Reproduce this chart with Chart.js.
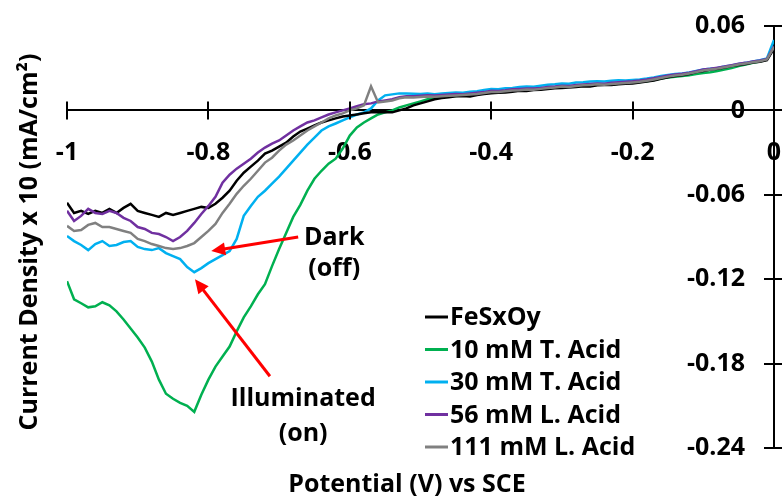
<!DOCTYPE html>
<html>
<head>
<meta charset="utf-8">
<script src="https://cdn.jsdelivr.net/npm/chart.js@4"></script>
<style>
  html, body { margin: 0; padding: 0; background: #fff; }
  #wrap { width: 782px; height: 499px; }
</style>
</head>
<body>
<div id="wrap"><canvas id="myChart" width="782" height="499"></canvas></div>
<script>
const potentials = [
  -1.00, -0.99, -0.98, -0.97, -0.96, -0.95, -0.94, -0.93, -0.92, -0.91,
  -0.90, -0.89, -0.88, -0.87, -0.86, -0.85, -0.84, -0.83, -0.82, -0.81,
  -0.80, -0.79, -0.78, -0.77, -0.76, -0.75, -0.74, -0.73, -0.72, -0.71,
  -0.70, -0.69, -0.68, -0.67, -0.66, -0.65, -0.64, -0.63, -0.62, -0.61,
  -0.60, -0.59, -0.58, -0.57, -0.56, -0.55, -0.54, -0.53, -0.52, -0.51,
  -0.50, -0.49, -0.48, -0.47, -0.46, -0.45, -0.44, -0.43, -0.42, -0.41,
  -0.40, -0.39, -0.38, -0.37, -0.36, -0.35, -0.34, -0.33, -0.32, -0.31,
  -0.30, -0.29, -0.28, -0.27, -0.26, -0.25, -0.24, -0.23, -0.22, -0.21,
  -0.20, -0.19, -0.18, -0.17, -0.16, -0.15, -0.14, -0.13, -0.12, -0.11,
  -0.10, -0.09, -0.08, -0.07, -0.06, -0.05, -0.04, -0.03, -0.02, -0.01,
  0.00
];

const fesxoy = [
  -0.0657, -0.0729, -0.0714, -0.0736, -0.0714, -0.0729, -0.0700, -0.0729, -0.0693, -0.0664,
  -0.0714, -0.0729, -0.0743, -0.0757, -0.0729, -0.0743, -0.0729, -0.0714, -0.0700, -0.0686,
  -0.0693, -0.0664, -0.0621, -0.0571, -0.0500, -0.0443, -0.0400, -0.0357, -0.0307, -0.0286,
  -0.0257, -0.0229, -0.0186, -0.0150, -0.0129, -0.0107, -0.0086, -0.0071, -0.0057, -0.0043,
  -0.0036, -0.0029, -0.0021, -0.0014, -0.0014, -0.0014, -0.0014, 0.0000, 0.0014,
  0.0036, 0.0050, 0.0064, 0.0079, 0.0088, 0.0093, 0.0100, 0.0102, 0.0099, 0.0110,
  0.0116, 0.0122, 0.0125, 0.0128, 0.0133, 0.0140, 0.0138, 0.0145, 0.0146, 0.0152,
  0.0158, 0.0160, 0.0162, 0.0166, 0.0172, 0.0170, 0.0178, 0.0181, 0.0180, 0.0186,
  0.0190, 0.0192, 0.0198, 0.0206, 0.0212, 0.0225, 0.0236, 0.0244, 0.0250, 0.0258,
  0.0272, 0.0280, 0.0290, 0.0296, 0.0304, 0.0315, 0.0322, 0.0330, 0.0340, 0.0346,
  0.0358, 0.0440
];

const tAcid10 = [
  -0.1214, -0.1343, -0.1371, -0.1400, -0.1393, -0.1364, -0.1386, -0.1429, -0.1486, -0.1550,
  -0.1614, -0.1686, -0.1786, -0.1914, -0.2014, -0.2050, -0.2079, -0.2100, -0.2143, -0.2021,
  -0.1914, -0.1821, -0.1750, -0.1679, -0.1571, -0.1471, -0.1393, -0.1307, -0.1236, -0.1107,
  -0.0986, -0.0871, -0.0757, -0.0671, -0.0571, -0.0486, -0.0429, -0.0379, -0.0343, -0.0271,
  -0.0179, -0.0121, -0.0086, -0.0057, -0.0029, -0.0014, 0.0000, 0.0021, 0.0036,
  0.0050, 0.0064, 0.0079, 0.0090, 0.0100, 0.0104, 0.0103, 0.0108, 0.0112, 0.0116,
  0.0122, 0.0130, 0.0131, 0.0136, 0.0140, 0.0144, 0.0148, 0.0146, 0.0152, 0.0158,
  0.0162, 0.0166, 0.0168, 0.0172, 0.0176, 0.0180, 0.0183, 0.0182, 0.0186, 0.0190,
  0.0194, 0.0198, 0.0202, 0.0208, 0.0216, 0.0226, 0.0234, 0.0240, 0.0245, 0.0250,
  0.0258, 0.0266, 0.0272, 0.0280, 0.0290, 0.0302, 0.0316, 0.0326, 0.0338, 0.0348,
  0.0360, 0.0450
];

const tAcid30 = [
  -0.0893, -0.0929, -0.0957, -0.0993, -0.0950, -0.0929, -0.0964, -0.0957, -0.0936, -0.0929,
  -0.0971, -0.0986, -0.0993, -0.0979, -0.1014, -0.1036, -0.1057, -0.1114, -0.1150, -0.1121,
  -0.1086, -0.1057, -0.1029, -0.1000, -0.0914, -0.0750, -0.0679, -0.0614, -0.0571, -0.0521,
  -0.0471, -0.0414, -0.0357, -0.0300, -0.0243, -0.0193, -0.0143, -0.0114, -0.0093, -0.0071,
  -0.0050, -0.0029, -0.0014, 0.0014, 0.0071, 0.0107, 0.0114, 0.0121, 0.0121,
  0.0118, 0.0116, 0.0120, 0.0115, 0.0121, 0.0124, 0.0128, 0.0126, 0.0133, 0.0137,
  0.0145, 0.0152, 0.0150, 0.0158, 0.0160, 0.0166, 0.0170, 0.0168, 0.0175, 0.0182,
  0.0186, 0.0192, 0.0190, 0.0198, 0.0200, 0.0205, 0.0208, 0.0206, 0.0210, 0.0214,
  0.0212, 0.0216, 0.0220, 0.0226, 0.0234, 0.0244, 0.0252, 0.0258, 0.0262, 0.0270,
  0.0280, 0.0290, 0.0296, 0.0302, 0.0312, 0.0320, 0.0330, 0.0338, 0.0348, 0.0356,
  0.0370, 0.0500
];

const lAcid56 = [
  -0.0714, -0.0786, -0.0750, -0.0700, -0.0729, -0.0736, -0.0714, -0.0729, -0.0764, -0.0786,
  -0.0829, -0.0843, -0.0871, -0.0879, -0.0900, -0.0929, -0.0900, -0.0857, -0.0800, -0.0736,
  -0.0679, -0.0614, -0.0514, -0.0457, -0.0414, -0.0379, -0.0343, -0.0300, -0.0264, -0.0236,
  -0.0214, -0.0179, -0.0143, -0.0114, -0.0086, -0.0071, -0.0050, -0.0029, -0.0014, 0.0000,
  0.0014, 0.0029, 0.0043, 0.0050, 0.0064, 0.0071, 0.0079, 0.0093, 0.0100,
  0.0100, 0.0104, 0.0108, 0.0106, 0.0110, 0.0113, 0.0116, 0.0115, 0.0120, 0.0126,
  0.0130, 0.0140, 0.0138, 0.0143, 0.0150, 0.0152, 0.0155, 0.0156, 0.0160, 0.0166,
  0.0170, 0.0176, 0.0174, 0.0180, 0.0185, 0.0188, 0.0192, 0.0190, 0.0196, 0.0200,
  0.0204, 0.0207, 0.0212, 0.0219, 0.0228, 0.0238, 0.0248, 0.0255, 0.0260, 0.0268,
  0.0278, 0.0290, 0.0296, 0.0304, 0.0312, 0.0322, 0.0332, 0.0338, 0.0348, 0.0355,
  0.0366, 0.0455
];

const lAcid111 = [
  -0.0821, -0.0857, -0.0850, -0.0814, -0.0800, -0.0829, -0.0829, -0.0843, -0.0857, -0.0871,
  -0.0914, -0.0929, -0.0950, -0.0964, -0.0979, -0.0986, -0.0979, -0.0964, -0.0943, -0.0900,
  -0.0857, -0.0807, -0.0729, -0.0664, -0.0593, -0.0536, -0.0486, -0.0429, -0.0371, -0.0336,
  -0.0286, -0.0243, -0.0214, -0.0179, -0.0143, -0.0114, -0.0086, -0.0057, -0.0036, -0.0021,
  0.0000, 0.0014, 0.0036, 0.0171, 0.0057, 0.0064, 0.0071, 0.0086, 0.0093,
  0.0092, 0.0095, 0.0099, 0.0097, 0.0101, 0.0104, 0.0106, 0.0109, 0.0113, 0.0117,
  0.0123, 0.0131, 0.0130, 0.0136, 0.0141, 0.0144, 0.0149, 0.0147, 0.0153, 0.0159,
  0.0163, 0.0169, 0.0167, 0.0174, 0.0178, 0.0181, 0.0185, 0.0183, 0.0188, 0.0192,
  0.0195, 0.0199, 0.0204, 0.0211, 0.0220, 0.0230, 0.0240, 0.0248, 0.0253, 0.0262,
  0.0272, 0.0283, 0.0290, 0.0297, 0.0307, 0.0316, 0.0326, 0.0334, 0.0342, 0.0350,
  0.0362, 0.0450
];

const seriesNames = ["FeSxOy", "10 mM T. Acid", "30 mM T. Acid", "56 mM L. Acid", "111 mM L. Acid"];
const seriesColors = ["#000000", "#00B050", "#00B0F0", "#7030A0", "#808080"];

const xTicks = [-1, -0.8, -0.6, -0.4, -0.2, 0];
const xTickLabels = ["-1", "-0.8", "-0.6", "-0.4", "-0.2", "0"];
const yTicks = [-0.24, -0.18, -0.12, -0.06, 0, 0.06];
const yTickLabels = ["-0.24", "-0.18", "-0.12", "-0.06", "0", "0.06"];

const xTitle = "Potential (V) vs SCE";
const yTitle = "Current Density x 10 (mA/cm\u00B2)";

// arrows: tail -> tip, in data units
const notes = [
  { lines: ["Dark", "(off)"], x: -0.622, y: [-0.0907, -0.1129], from: [-0.673, -0.090], to: [-0.796, -0.100] },
  { lines: ["Illuminated", "(on)"], x: -0.666, y: [-0.205, -0.230], from: [-0.713, -0.189], to: [-0.819, -0.120] },
];

const FONT = "bold 25px 'Open Sans'";
const tickFont = { family: "'Open Sans'", size: 25, weight: 'bold' };

const allSeries = [fesxoy, tAcid10, tAcid30, lAcid56, lAcid111];
// gray on top, then purple
const drawOrder = [2, 4, 3, 1, 0];

const datasets = allSeries.map((vals, i) => ({
  label: seriesNames[i],
  data: vals,
  borderColor: seriesColors[i],
  backgroundColor: seriesColors[i],
  borderWidth: 2.5,
  pointRadius: 0,
  tension: 0,
  order: drawOrder[i],
}));

const extras = {
  id: 'extras',
  afterDraw(chart) {
    const { ctx, scales: { x, y } } = chart;
    const x0 = x.getPixelForValue(0);
    const y0 = y.getPixelForValue(0);
    ctx.save();
    ctx.strokeStyle = '#000';
    ctx.lineWidth = 2;
    // crossing tick marks
    xTicks.forEach((v) => {
      const px = Math.round(x.getPixelForValue(v));
      ctx.beginPath();
      ctx.moveTo(px, y0 - 9);
      ctx.lineTo(px, y0 + 9);
      ctx.stroke();
    });
    yTicks.forEach((v) => {
      const py = Math.round(y.getPixelForValue(v));
      ctx.beginPath();
      ctx.moveTo(x0 - 10, py);
      ctx.lineTo(x0 + 9, py);
      ctx.stroke();
    });

    ctx.fillStyle = '#000';
    ctx.font = FONT;
    ctx.textAlign = 'center';
    ctx.textBaseline = 'middle';
    ctx.fillText(xTitle, 407, 485);
    ctx.save();
    ctx.translate(30, 242);
    ctx.rotate(-Math.PI / 2);
    ctx.fillText(yTitle, 0, 0);
    ctx.restore();

    // legend
    ctx.textAlign = 'left';
    seriesNames.forEach((name, i) => {
      const ry = 317 + i * 32.5;
      ctx.strokeStyle = seriesColors[i];
      ctx.lineWidth = 3;
      ctx.beginPath();
      ctx.moveTo(425, ry);
      ctx.lineTo(448, ry);
      ctx.stroke();
      ctx.fillStyle = '#000';
      ctx.fillText(name, 450, ry + 1);
    });

    // annotations
    notes.forEach((n) => {
      ctx.fillStyle = '#000';
      ctx.textAlign = 'center';
      n.lines.forEach((t, k) => {
        ctx.fillText(t, x.getPixelForValue(n.x), y.getPixelForValue(n.y[k]));
      });
      const ax = x.getPixelForValue(n.from[0]);
      const ay = y.getPixelForValue(n.from[1]);
      const bx = x.getPixelForValue(n.to[0]);
      const by = y.getPixelForValue(n.to[1]);
      const ang = Math.atan2(by - ay, bx - ax);
      const hl = 14, hw = 6.5;
      ctx.strokeStyle = '#FF0000';
      ctx.fillStyle = '#FF0000';
      ctx.lineWidth = 3;
      ctx.beginPath();
      ctx.moveTo(ax, ay);
      ctx.lineTo(bx - Math.cos(ang) * hl * 0.8, by - Math.sin(ang) * hl * 0.8);
      ctx.stroke();
      ctx.beginPath();
      ctx.moveTo(bx, by);
      ctx.lineTo(bx - Math.cos(ang) * hl - Math.sin(ang) * hw, by - Math.sin(ang) * hl + Math.cos(ang) * hw);
      ctx.lineTo(bx - Math.cos(ang) * hl + Math.sin(ang) * hw, by - Math.sin(ang) * hl - Math.cos(ang) * hw);
      ctx.closePath();
      ctx.fill();
    });
    ctx.restore();
  }
};

const config = {
  type: 'line',
  data: { labels: potentials, datasets: datasets },
  options: {
    responsive: false,
    animation: false,
    layout: { padding: { left: 67, top: 26, right: 0, bottom: 51 } },
    plugins: { legend: { display: false }, tooltip: { enabled: false } },
    scales: {
      x: {
        type: 'linear',
        min: -1,
        max: 0,
        position: { y: 0 },
        afterBuildTicks: (s) => { s.ticks = xTicks.map((v) => ({ value: v })); },
        afterFit: (s) => { s.height = 0; s.paddingLeft = 0; s.paddingRight = 0; },
        grid: { display: false, drawTicks: false },
        border: { display: true, color: '#000', width: 2 },
        ticks: {
          font: tickFont, color: '#000', padding: 27, maxRotation: 0, autoSkip: false,
          callback: (v) => xTickLabels[xTicks.indexOf(v)],
        },
      },
      y: {
        type: 'linear',
        min: -0.24,
        max: 0.06,
        position: 'right',
        afterBuildTicks: (s) => { s.ticks = yTicks.map((v) => ({ value: v })); },
        afterFit: (s) => { s.width = 8; s.paddingTop = 0; s.paddingBottom = 0; },
        grid: { display: false, drawTicks: false },
        border: { display: true, color: '#000', width: 2 },
        ticks: {
          font: tickFont, color: '#000', mirror: true, padding: -29, autoSkip: false,
          callback: (v) => yTickLabels[yTicks.indexOf(v)],
        },
      },
    },
  },
  plugins: [extras],
};

const ctx1 = document.getElementById('myChart');
const chart1 = new Chart(ctx1, config);
</script>
</body>
</html>
